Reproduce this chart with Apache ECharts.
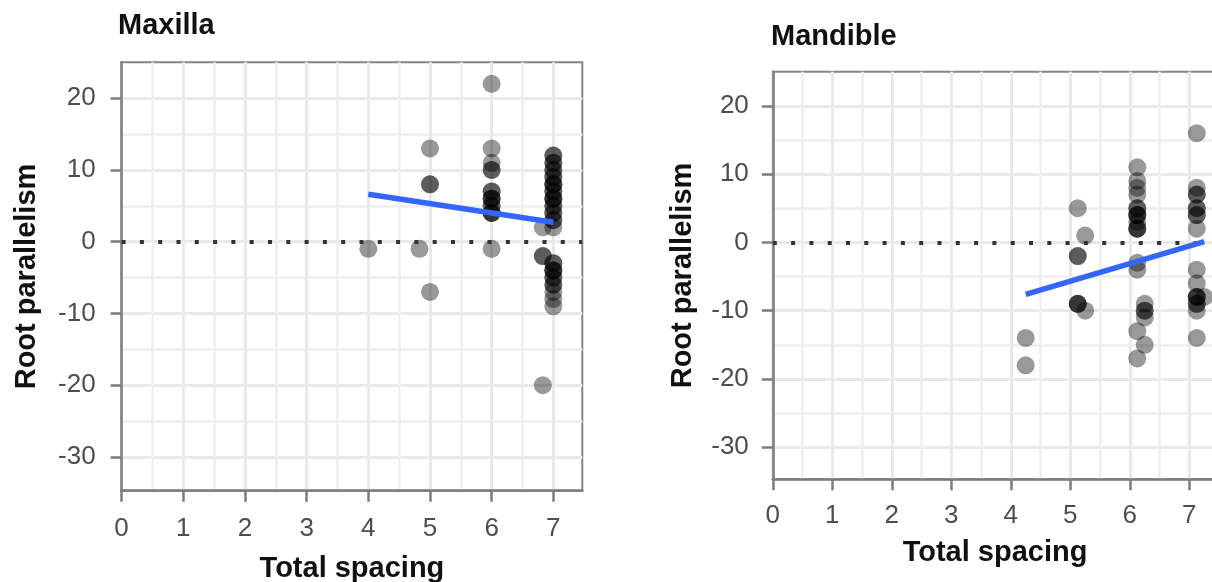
<!DOCTYPE html>
<html>
<head>
<meta charset="utf-8">
<script src="https://cdn.jsdelivr.net/npm/echarts@6/dist/echarts.min.js"></script>
<style>
html, body { margin: 0; padding: 0; background: #fff; }
#chart { width: 1212px; height: 582px; }
</style>
</head>
<body>
<div id="chart"></div>
<script>
// Maxilla points (total spacing, root parallelism)
var maxillaSpacing = [4, 4.83, 5, 5, 5, 5,
    6, 6, 6, 6, 6, 6, 6, 6, 6, 6, 6, 6, 6, 6, 6, 6,
    6.83, 6.83, 6.83, 6.83,
    7, 7, 7, 7, 7, 7, 7, 7, 7, 7, 7, 7, 7, 7, 7, 7, 7, 7, 7, 7, 7, 7, 7, 7, 7, 7, 7, 7, 7, 7, 7, 7, 7, 7, 7];
var maxillaParallel = [-1, -1, 13, 8, 8, -7,
    22, 13, 11, 10, 10, 7, 7, 6, 6, 6, 5, 5, 4, 4, 4, -1,
    2, -2, -2, -20,
    12, 12, 11, 11, 10, 10, 9, 9, 8, 8, 8, 7, 7, 6, 6, 6, 5, 5, 4, 4, 3, 3, 2, -3, -3, -4, -4, -4, -5, -5, -6, -6, -7, -8, -9];

// Mandible points
var mandibleSpacing = [4.25, 4.25,
    5.125, 5.125, 5.125, 5.125, 5.125, 5.125, 5.25, 5.25,
    6.125, 6.125, 6.125, 6.125, 6.125, 6.125, 6.125, 6.125, 6.125, 6.125, 6.125, 6.125, 6.125, 6.125, 6.125, 6.125, 6.125,
    6.25, 6.25, 6.25, 6.25, 6.25,
    7.125, 7.125, 7.125, 7.125, 7.125, 7.125, 7.125, 7.125, 7.125, 7.125, 7.125, 7.125, 7.125, 7.125, 7.125, 7.125, 7.125, 7.125,
    7.25];
var mandibleParallel = [-14, -18,
    5, -2, -2, -9, -9, -9, 1, -10,
    11, 9, 8, 7, 5, 5, 4, 4, 4, 3, 2, 2, 2, -3, -4, -13, -17,
    -9, -10, -10, -11, -15,
    16, 8, 7, 7, 5, 5, 4, 4, 2, -4, -6, -8, -8, -8, -9, -9, -10, -14,
    -8];

// linear fit end points
var maxillaFitX = [4, 7];
var maxillaFitY = [6.6, 2.7];
var mandibleFitX = [4.25, 7.25];
var mandibleFitY = [-7.6, 0.1];

// axes
var xRange = [0, 7.47];
var yRange = [-34.7, 25];
var xTicks = [0, 1, 2, 3, 4, 5, 6, 7];
var xMinor = [0.5, 1.5, 2.5, 3.5, 4.5, 5.5, 6.5];
var yTicks = [-30, -20, -10, 0, 10, 20];
var yMinor = [-25, -15, -5, 5, 15];
var refLineY = 0;

var FONT = '"Liberation Sans", Arial, sans-serif';
var axisGrey = '#7d7d7d';

function zip(xs, ys) {
    return xs.map(function (x, i) { return [x, ys[i]]; });
}

function mainX(gi, gap, margin) {
    return {
        type: 'value', gridIndex: gi, min: xRange[0], max: xRange[1], position: 'bottom',
        axisLine: { show: true, onZero: false, lineStyle: { color: axisGrey, width: 2.5 } },
        axisTick: { show: true, customValues: xTicks, length: 11, lineStyle: { color: axisGrey, width: 2.5 } },
        axisLabel: { customValues: xTicks, margin: margin, color: '#4d4d4d', fontSize: 26, fontFamily: FONT },
        splitLine: { show: true, lineStyle: { color: '#e9e9e9', width: 3 } },
        name: 'Total spacing', nameLocation: 'middle', nameGap: gap,
        nameTextStyle: { color: '#111', fontSize: 29, fontWeight: 'bold', fontFamily: FONT }
    };
}
function minorX(gi) {
    return {
        type: 'value', gridIndex: gi, min: xRange[0], max: xRange[1],
        axisLine: { show: false }, axisTick: { show: false, customValues: xMinor },
        axisLabel: { show: false, customValues: xMinor },
        splitLine: { show: true, lineStyle: { color: '#eeeeee', width: 2.5 } }
    };
}
function mainY(gi, gap, margin) {
    return {
        type: 'value', gridIndex: gi, min: yRange[0], max: yRange[1], position: 'left',
        axisLine: { show: true, onZero: false, lineStyle: { color: axisGrey, width: 2.5 } },
        axisTick: { show: true, customValues: yTicks, length: 11, lineStyle: { color: axisGrey, width: 2.5 } },
        axisLabel: { customValues: yTicks, margin: margin, color: '#4d4d4d', fontSize: 26, fontFamily: FONT },
        splitLine: { show: true, lineStyle: { color: '#e9e9e9', width: 3 } },
        name: 'Root parallelism', nameLocation: 'middle', nameGap: gap,
        nameTextStyle: { color: '#111', fontSize: 29, fontWeight: 'bold', fontFamily: FONT }
    };
}
function minorY(gi) {
    return {
        type: 'value', gridIndex: gi, min: yRange[0], max: yRange[1],
        axisLine: { show: false }, axisTick: { show: false, customValues: yMinor },
        axisLabel: { show: false, customValues: yMinor },
        splitLine: { show: true, lineStyle: { color: '#eeeeee', width: 2.5 } }
    };
}

function points(xi, yi, xs, ys) {
    return {
        type: 'scatter', xAxisIndex: xi, yAxisIndex: yi, data: zip(xs, ys),
        symbolSize: 18, itemStyle: { color: 'rgba(0,0,0,0.5)' }, z: 3,
        markLine: {
            silent: true, symbol: ['none', 'none'], label: { show: false },
            lineStyle: { color: '#333', width: 4, type: [4, 14.3], cap: 'butt' },
            emphasis: { disabled: true },
            data: [{ yAxis: refLineY }]
        }
    };
}
function fit(xi, yi, xs, ys) {
    return {
        type: 'line', xAxisIndex: xi, yAxisIndex: yi, data: zip(xs, ys),
        showSymbol: false, symbol: 'none', z: 6,
        lineStyle: { color: '#3366ff', width: 5.5, cap: 'butt' }
    };
}

var chart = echarts.init(document.getElementById('chart'));
chart.setOption({
    animation: false,
    backgroundColor: '#fff',
    title: [
        { text: 'Maxilla', left: 118, top: 11, padding: 0,
          textStyle: { color: '#111', fontSize: 29, fontWeight: 'bold', fontFamily: FONT } },
        { text: 'Mandible', left: 771, top: 22, padding: 0,
          textStyle: { color: '#111', fontSize: 29, fontWeight: 'bold', fontFamily: FONT } }
    ],
    grid: [
        { left: 121.6, right: 629.7, top: 62.3, bottom: 91.3, outerBoundsMode: 'none', containLabel: false,
          show: true, borderColor: '#858585', borderWidth: 2 },
        { left: 772.8, right: -5.3, top: 71.7, bottom: 102.7, outerBoundsMode: 'none', containLabel: false,
          show: true, borderColor: '#858585', borderWidth: 2 }
    ],
    xAxis: [mainX(0, 64, 25), minorX(0), mainX(1, 59, 24), minorX(1)],
    yAxis: [mainY(0, 80, 26), minorY(0), mainY(1, 75, 24), minorY(1)],
    series: [
        points(0, 0, maxillaSpacing, maxillaParallel),
        fit(0, 0, maxillaFitX, maxillaFitY),
        points(2, 2, mandibleSpacing, mandibleParallel),
        fit(2, 2, mandibleFitX, mandibleFitY)
    ]
});
</script>
</body>
</html>
